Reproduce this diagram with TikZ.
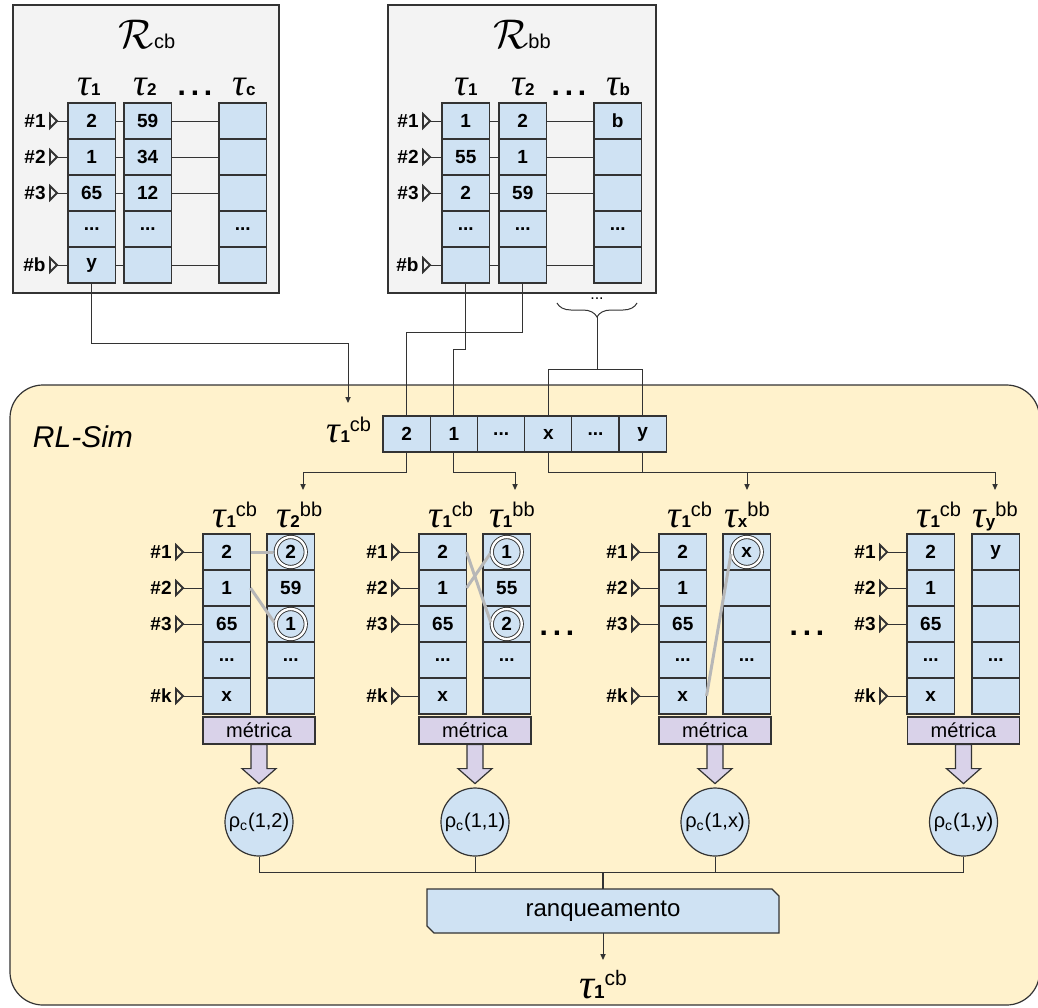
\documentclass[tikz,border=0pt]{standalone}
\usepackage{fontspec}
\setmainfont{Liberation Sans}
\newfontfamily\taufont{Liberation Serif}
\usetikzlibrary{arrows.meta,decorations.pathreplacing,positioning}

\definecolor{cellblue}{HTML}{CFE2F3}
\definecolor{lav}{HTML}{D9D2E9}
\definecolor{cream}{HTML}{FFF2CC}
\definecolor{panel}{HTML}{F3F3F3}
\definecolor{ink}{HTML}{333333}
\definecolor{matchgray}{HTML}{B7B7B7}

\newcommand\dd{...}
\newcommand\bigdots{\textbf{.\hspace{2.4pt}.\hspace{2.4pt}.}}
% tau with a bold index and a raised tag
\newcommand\tauidx[2]{{\taufont\itshape\fontsize{19}{19}\selectfont τ}{\fontsize{8.5}{8.5}\selectfont\bfseries #1}\raisebox{5.5pt}{\fontsize{10}{10}\selectfont #2}}
\newcommand\taubig[2]{{\taufont\itshape\fontsize{21}{21}\selectfont τ}{\fontsize{9.5}{9.5}\selectfont\bfseries #1}\raisebox{6.5pt}{\fontsize{10.5}{10.5}\selectfont #2}}
% one ranking column: name, left x, top y, entries
\newcommand\tcol[4]{\foreach \v [count=\ri] in {#4} {\node[cell] (#1-\ri) at (#2,{#3+36*(\ri-1)}) {\v};}}
% row label with its open marker and lead line to a cell
\newcommand\rmark[4]{\node[rowlab, left=#3 of #4] (#1) {#2};
  \draw[draw=ink, line width=0.9pt, line join=miter] (#1.east) ++(0,-7) -- ++(7,7) -- ++(-7,7) -- cycle;
  \draw[conn, shorten <=3.5pt] (#1.east) -- (#4.west);}

\begin{document}
\begin{tikzpicture}[x=0.5pt,y=-0.5pt,
  cell/.style={draw=ink, fill=cellblue, line width=0.6pt, minimum width=23.75pt,
    minimum height=18pt, inner sep=0pt, outer sep=0pt, anchor=north west,
    font=\fontsize{9.5}{9.5}\selectfont\bfseries},
  rowlab/.style={inner sep=2pt, font=\fontsize{9.5}{9.5}\selectfont\bfseries},
  conn/.style={draw=ink, line width=0.5pt},
  arr/.style={conn, -{Triangle[length=3pt, width=2.6pt]}},
  matchline/.style={draw=matchgray, line width=1.5pt, shorten >=1pt},
  ring/.style={circle, minimum size=15pt, inner sep=0pt, draw=ink, line width=0.45pt,
    double=white, double distance=1.2pt},
  metric/.style={rectangle, draw=ink, fill=lav, line width=0.6pt, minimum width=56pt,
    minimum height=13.5pt, inner sep=0pt, font=\fontsize{10}{10}\selectfont},
  blockarrow/.style={draw=ink, fill=lav, line width=0.6pt, line join=miter},
  rho/.style={circle, draw=ink, fill=cellblue, line width=0.6pt, minimum size=34pt,
    inner sep=0pt, font=\fontsize{10}{10}\selectfont},
  bigdot/.style={anchor=base, font=\fontsize{15}{15}\selectfont},
  taulab/.style={anchor=base, inner sep=0pt}]

\useasboundingbox (0,0) rectangle (1038,1007);
\clip (0,0) rectangle (1038,1007);

% ---------- RL-Sim panel ----------
\draw[ink, fill=cream, line width=0.6pt, rounded corners=16.5pt] (10,385) rectangle (1039.5,1005);
\node[font=\fontsize{15}{15}\selectfont\itshape] (rlsim) at (83,437) {RL-Sim};

% ---------- R_cb panel ----------
\draw[draw=ink, fill=panel, line width=0.6pt] (13,5) rectangle (279,293);
\node[anchor=base] (rcbtitle) at (147,48) {{\fontsize{20.74}{21}\selectfont$\mathcal{R}$}{\fontsize{10}{10}\selectfont cb}};
\node[taulab] (rcbt1) at (89,95) {\tauidx{1}{}};
\node[taulab] (rcbt2) at (145,95) {\tauidx{2}{}};
\node[bigdot] (rcbdots) at (195,95) {\bigdots};
\node[taulab] (rcbtc) at (244,95) {\tauidx{c}{}};
\tcol{A1}{68}{103}{2,1,65,\dd,y}
\tcol{A2}{124}{103}{59,34,12,\dd,{}}
\tcol{A3}{219}{103}{{},{},{},\dd,{}}
\foreach \ri in {1,2,3,5} {\draw[conn] (A1-\ri.east) -- (A2-\ri.west); \draw[conn] (A2-\ri.east) -- (A3-\ri.west);}
\rmark{la1}{\#1}{9pt}{A1-1}
\rmark{la2}{\#2}{9pt}{A1-2}
\rmark{la3}{\#3}{9pt}{A1-3}
\rmark{la5}{\#b}{9pt}{A1-5}

% ---------- R_bb panel ----------
\draw[draw=ink, fill=panel, line width=0.6pt] (388,5) rectangle (656,293);
\node[anchor=base] (rbbtitle) at (522,48) {{\fontsize{20.74}{21}\selectfont$\mathcal{R}$}{\fontsize{10}{10}\selectfont bb}};
\node[taulab] (rbbt1) at (466,95) {\tauidx{1}{}};
\node[taulab] (rbbt2) at (523,95) {\tauidx{2}{}};
\node[bigdot] (rbbdots) at (569,95) {\bigdots};
\node[taulab] (rbbtb) at (618,95) {\tauidx{b}{}};
\tcol{B1}{442}{103}{1,55,2,\dd,{}}
\tcol{B2}{499}{103}{2,1,59,\dd,{}}
\tcol{B3}{594}{103}{b,{},{},\dd,{}}
\foreach \ri in {1,2,3,5} {\draw[conn] (B1-\ri.east) -- (B2-\ri.west); \draw[conn] (B2-\ri.east) -- (B3-\ri.west);}
\rmark{lb1}{\#1}{9.5pt}{B1-1}
\rmark{lb2}{\#2}{9.5pt}{B1-2}
\rmark{lb3}{\#3}{9.5pt}{B1-3}
\rmark{lb5}{\#b}{9.5pt}{B1-5}

% brace over the remaining columns
\draw[conn, decorate, decoration={brace, mirror, amplitude=7pt}] (557,303) -- (637,303);
\node[anchor=base, font=\fontsize{8}{8}\selectfont] (bracedots) at (597,299) {...};
\coordinate (bt) at (597,317);
\coordinate (bj) at (597,369);

% ---------- query ranking row ----------
\node[taulab] (tcb) at (349,442) {\tauidx{1}{cb}};
\foreach \v [count=\ri] in {2,1,\dd,x,\dd,y} {\node[cell] (R-\ri) at ({383+47.2*(\ri-1)},416) {\v};}

% feeds into the query row
\coordinate (t0) at (348,403);
\draw[arr] (A1-5.south) -- ++(0,60) -| (t0);
\draw[conn] (B1-5.south) -- ++(0,66) -| (R-2.north);
\draw[conn] (B2-5.south) -- ++(0,49) -| (R-1.north);
\draw[conn] (bt) -- (bj);
\draw[conn] (bj) -| (R-4.north);
\draw[conn] (bj) -| (R-6.north);

% branches to the pairwise comparisons
\coordinate (t1) at (303,490);
\coordinate (t2) at (515,490);
\coordinate (t3) at (747,490);
\coordinate (t4) at (995,490);
\draw[arr] (R-1.south) -- ++(0,20) -| (t1);
\draw[arr] (R-2.south) -- ++(0,20) -| (t2);
\draw[arr] (R-4.south) -- ++(0,20) -| (t3);
\draw[arr] (R-6.south) -- ++(0,20) -| (t4);

% ---------- comparison groups ----------
\node[taulab] (g1l) at (235,527) {\tauidx{1}{cb}};
\node[taulab] (g1r) at (299.5,527) {\tauidx{2}{bb}};
\node[taulab] (g2l) at (451,527) {\tauidx{1}{cb}};
\node[taulab] (g2r) at (512,527) {\tauidx{1}{bb}};
\node[taulab] (g3l) at (690,527) {\tauidx{1}{cb}};
\node[taulab] (g3r) at (747,527) {\tauidx{x}{bb}};
\node[taulab] (g4l) at (939,527) {\tauidx{1}{cb}};
\node[taulab] (g4r) at (995,527) {\tauidx{y}{bb}};

\tcol{G1A}{203}{534}{2,1,65,\dd,x}
\tcol{G1B}{267}{534}{2,59,1,\dd,{}}
\tcol{G2A}{419}{534}{2,1,65,\dd,x}
\tcol{G2B}{483}{534}{1,55,2,\dd,{}}
\tcol{G3A}{659}{534}{2,1,65,\dd,x}
\tcol{G3B}{723}{534}{x,{},{},\dd,{}}
\tcol{G4A}{907}{534}{2,1,65,\dd,x}
\tcol{G4B}{972}{534}{y,{},{},\dd,{}}

\foreach \g in {1,2,3,4} {
  \rmark{lg\g-1}{\#1}{13.5pt}{G\g A-1}
  \rmark{lg\g-2}{\#2}{13.5pt}{G\g A-2}
  \rmark{lg\g-3}{\#3}{13.5pt}{G\g A-3}
  \rmark{lg\g-5}{\#k}{13.5pt}{G\g A-5}
}

% matched items
\node[ring] (C1a) at (G1B-1) {};
\node[ring] (C1b) at (G1B-3) {};
\node[ring] (C2a) at (G2B-1) {};
\node[ring] (C2b) at (G2B-3) {};
\node[ring] (C3a) at (G3B-1) {};
\draw[matchline] (G1A-1.east) -- (C1a.west);
\draw[matchline] (G1A-2.east) -- (C1b.west);
\draw[matchline] (G2A-1.east) -- (C2b.west);
\draw[matchline] (G2A-2.east) -- (C2a.west);
\draw[matchline] (G3A-5.east) -- (C3a.west);

\node[bigdot] (gdots1) at (557,635) {\bigdots};
\node[bigdot] (gdots2) at (807,635) {\bigdots};

% metric blocks, arrows and scores
\node[metric] (M1) at (259,730.5) {métrica};
\node[metric] (M2) at (475,730.5) {métrica};
\node[metric] (M3) at (715,730.5) {métrica};
\node[metric] (M4) at (963.5,730.5) {métrica};
\foreach \m in {M1,M2,M3,M4} {
  \draw[blockarrow] (\m.south) -- ++(-8,0) -- ++(0,24) -- ++(-9,0) -- ++(17,15) -- ++(17,-15) -- ++(-9,0) -- ++(0,-24) -- cycle;
}
\node[rho] (P1) at (259,822) {ρ\textsubscript{c}(1,2)};
\node[rho] (P2) at (475,822) {ρ\textsubscript{c}(1,1)};
\node[rho] (P3) at (715,822) {ρ\textsubscript{c}(1,x)};
\node[rho] (P4) at (963.5,822) {ρ\textsubscript{c}(1,y)};

% ranking step
\path[draw=ink, fill=cellblue, line width=0.6pt] (427,889) -- (772,889) -- (779,896) -- (779,933) -- (434,933) -- (427,926) -- cycle;
\node[minimum width=176pt, minimum height=22pt, inner sep=0pt, font=\fontsize{12}{12}\selectfont] (RK) at (603,911) {ranqueamento};

\coordinate (J) at (603,872);
\draw[conn] (P1.south) |- (J);
\draw[conn] (P2.south) |- (J);
\draw[conn] (P3.south) |- (J);
\draw[conn] (P4.south) |- (J);
\draw[conn, line width=1pt] (J) -- (RK.north);

\coordinate (tout) at (603,960);
\draw[arr] (RK.south) -- (tout);
\node[taulab] (out) at (603,998) {\taubig{1}{cb}};

\end{tikzpicture}
\end{document}
